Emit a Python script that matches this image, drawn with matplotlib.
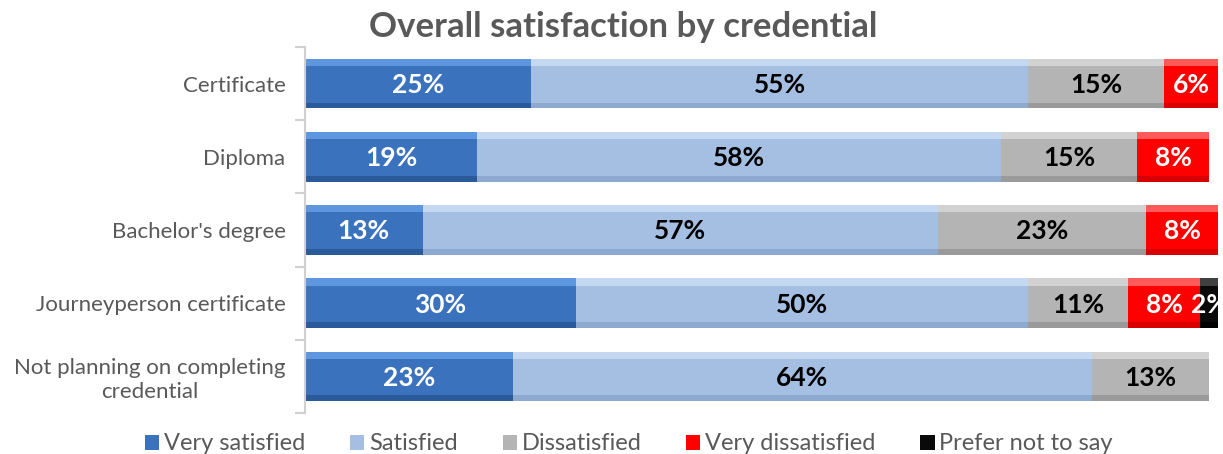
import numpy as np
import matplotlib.pyplot as plt
from matplotlib.patches import Patch

# datos
categorias = ["Certificate", "Diploma", "Bachelor's degree",
              "Journeyperson certificate", "Not planning on completing\ncredential"]
series = ["Very satisfied", "Satisfied", "Dissatisfied", "Very dissatisfied", "Prefer not to say"]
muy_satisfecho = [25, 19, 13, 30, 23]
satisfecho = [55, 58, 57, 50, 64]
insatisfecho = [15, 15, 23, 11, 13]
muy_insatisfecho = [6, 8, 8, 8, 0]
prefiere_no_decir = [0, 0, 0, 2, 0]

valores = [muy_satisfecho, satisfecho, insatisfecho, muy_insatisfecho, prefiere_no_decir]
colores = ["#3a72bd", "#a5bfe3", "#b4b4b4", "#ff0000", "#0a0a0a"]
brillo = ["#5d97e0", "#c4d8f2", "#d2d2d2", "#ff5a5a", "#404040"]
sombra = ["#2b5a9a", "#8ea9cf", "#9a9a9a", "#d80000", "#000000"]
color_texto = ["white", "black", "black", "white", "white"]

plt.rcParams["font.family"] = ["Lato", "DejaVu Sans"]

fig = plt.figure(figsize=(12.23, 4.54), dpi=100)
ax = fig.add_axes([305 / 1223, 1 - 413 / 454, (1220 - 305) / 1223, 366 / 454])

y = np.arange(len(categorias))
alto = 0.68
izquierda = np.zeros(len(categorias))
for vals, col, bri, som, tc in zip(valores, colores, brillo, sombra, color_texto):
    vals = np.array(vals, dtype=float)
    ax.barh(y, vals, left=izquierda, height=alto, color=col, edgecolor="none")
    # efecto de bisel: franja clara arriba y oscura abajo
    ax.barh(y - alto / 2 + 0.05, vals, left=izquierda, height=0.1, color=bri, edgecolor="none")
    ax.barh(y + alto / 2 - 0.04, vals, left=izquierda, height=0.08, color=som, edgecolor="none")
    for yi, (l, v) in enumerate(zip(izquierda, vals)):
        if v > 0:
            ax.text(l + v / 2, yi + 0.02, f"{int(v)}%", ha="center", va="center",
                    fontsize=19, fontweight="bold", color=tc, clip_on=False)
    izquierda += vals

ax.set_xlim(0, 101.2)
ax.set_ylim(len(categorias) - 0.5, -0.5)
ax.set_xticks([])
ax.set_yticks(y)
ax.set_yticklabels(categorias, fontsize=16, color="#595959", ha="right", multialignment="center")
ax.tick_params(axis="y", length=0, pad=14)
ax.set_yticks(np.arange(-0.5, len(categorias)), minor=True)
ax.tick_params(axis="y", which="minor", length=7, color="#d0d0d0", width=1.5)
for s in ["top", "right", "bottom"]:
    ax.spines[s].set_visible(False)
ax.spines["left"].set_color("#d0d0d0")
ax.spines["left"].set_linewidth(1.5)

fig.text(623 / 1223, 1 - 27 / 454, "Overall satisfaction by credential", ha="center", va="center",
         fontsize=25, fontweight="bold", color="#595959")

handles = [Patch(facecolor=c, edgecolor="none") for c in colores]
leg = fig.legend(handles, series, loc="center", bbox_to_anchor=(629 / 1223, 1 - 444 / 454),
                 ncol=5, frameon=False, fontsize=17, handlelength=0.6, handleheight=0.6,
                 handletextpad=0.2, columnspacing=1.9, borderpad=0)
for t in leg.get_texts():
    t.set_color("#595959")

fig.savefig("out.png", dpi=100)
